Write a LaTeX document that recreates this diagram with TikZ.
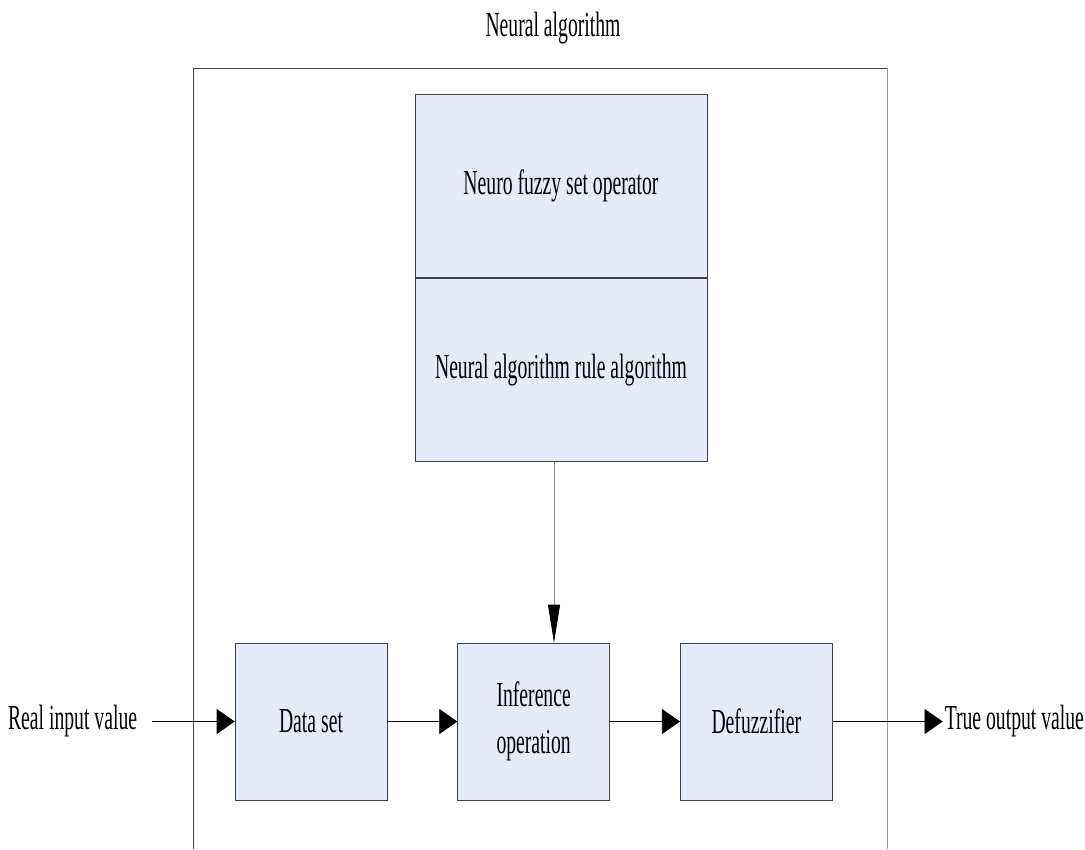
\documentclass[tikz,border=0pt]{standalone}
\usepackage{fontspec}
\setmainfont{Liberation Serif}[FakeStretch=0.56]
\usetikzlibrary{positioning,arrows.meta}
\definecolor{blockblue}{HTML}{E6ECF7}

\begin{document}
\begin{tikzpicture}[
x=0.02cm,y=-0.02cm,
>={Triangle[length=.36cm,width=.5cm]},
node distance=1.4cm,
font=\fontsize{20}{27}\selectfont,
block/.style={
rectangle,
draw=black!75,
fill=blockblue,
minimum width=3.04cm,
minimum height=3.14cm,
align=center,
inner sep=0pt},
upper/.style={block,minimum width=5.84cm,minimum height=3.66cm},
label/.style={inner sep=1pt},
flow/.style={->,black},
drop/.style={-{Triangle[length=.76cm,width=.24cm,color=black]},black!45}
]

\useasboundingbox (0,0) rectangle (1085,849);

\node (title) at (553,28) {Neural algorithm};
\draw[black!75] (193,849) -- (193,68) -- (887,68);
\draw[black!40] (887,68) -- (887,849);

\node[upper] (fuzzy) at (561,186) {Neuro fuzzy set operator};
\node[upper,below=0pt of fuzzy] (rule) {Neural algorithm rule algorithm};

\node[block] (data) at (311,721.5) {Data set};
\node[block,right=of data] (infer) {Inference\\operation};
\node[block,right=of infer] (defuz) {Defuzzifier};

\node[label,left=1.91cm of data] (realin) {Real input value};
\node[label,right=2.2cm of defuz] (trueout) {True output value};

\draw[flow,shorten <=.25cm] (realin) -- (data);
\draw[flow] (data) -- (infer);
\draw[flow] (infer) -- (defuz);
\draw[flow] (defuz) -- (trueout);
\draw[drop] ([xshift=-.14cm]rule.south) -- ([xshift=-.14cm]rule.south |- infer.north);

\end{tikzpicture}
\end{document}
